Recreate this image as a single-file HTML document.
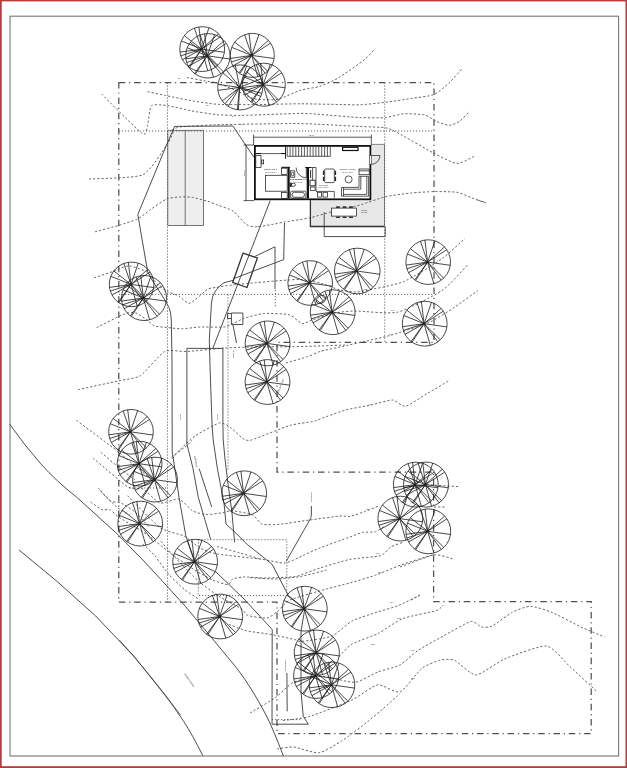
<!DOCTYPE html>
<html lang="en"><head><meta charset="utf-8"><title>Site Plan</title>
<style>
html,body{margin:0;padding:0;background:#fff}
body{width:627px;height:768px;overflow:hidden;position:relative;font-family:"Liberation Sans",sans-serif}
</style></head><body>
<svg width="627" height="768" viewBox="0 0 627 768" style="display:block">
<defs><filter id="gs" x="0" y="0" width="627" height="768" filterUnits="userSpaceOnUse" color-interpolation-filters="sRGB"><feColorMatrix type="saturate" values="0"/></filter></defs>
<rect x="0" y="0" width="627" height="768" fill="#fff"/>
<rect x="10" y="16.2" width="608.6" height="739.8" fill="none" stroke="#777" stroke-width="1.1"/>
<g fill="none" stroke="#555" stroke-width="0.8">
<rect x="167.8" y="130.3" width="35.7" height="95.1" fill="#eeeeee"/>
<path d="M185.2 130.3V225.4"/>
</g>
<path d="M371.3 144.4H384.5V226.5H310.4V200.2H371.3Z" fill="#e7e7e7" stroke="none"/>
<g fill="none" stroke="#555" stroke-width="0.9" stroke-dasharray="2.2 2" stroke-linejoin="round">
<path d="M187.0 77.6C188.7 77.9 200.9 80.2 203.8 80.7C206.8 81.2 213.4 81.9 216.5 82.8C219.6 83.7 231.2 88.4 235.0 90.0C238.8 91.6 250.7 98.1 255.0 99.0C259.3 99.9 273.3 100.2 277.8 99.3C282.3 98.4 295.8 91.7 300.0 90.4C304.2 89.1 316.1 87.6 320.0 86.3C323.9 85.0 334.6 80.1 339.0 77.5C343.4 74.9 360.5 62.8 364.0 60.0C367.5 57.2 373.0 51.0 374.0 50.0"/>
<path d="M147.6 91.7C149.4 92.1 161.2 94.6 165.5 95.5C169.8 96.4 185.7 99.7 191.0 100.6C196.3 101.5 211.9 104.0 219.0 104.4C226.1 104.8 253.9 104.6 262.0 104.5C270.1 104.4 292.2 103.8 300.0 103.8C307.8 103.8 334.0 104.4 340.0 104.5C346.0 104.6 355.4 105.0 360.0 104.8C364.6 104.6 380.4 102.9 385.5 102.3C390.6 101.7 406.1 99.3 411.0 98.5C415.9 97.7 430.2 96.1 434.0 94.6C437.8 93.0 446.2 85.6 449.0 83.0C451.8 80.4 460.7 70.4 462.0 69.0"/>
<path d="M101.5 94.0C105.6 98.0 137.7 130.5 142.3 133.6C146.9 136.7 146.7 127.6 147.6 124.8C148.5 122.0 149.5 107.6 151.5 105.7C153.5 103.8 164.1 105.2 168.0 105.7C171.9 106.2 186.2 109.9 191.0 110.8C195.8 111.7 211.4 114.1 216.5 114.6C221.6 115.1 233.7 115.5 242.0 115.4C250.3 115.3 292.2 113.5 300.0 113.4C307.8 113.3 314.0 114.0 320.0 114.4C326.0 114.8 353.4 117.3 360.0 117.6C366.6 117.9 381.2 118.0 385.5 117.6C389.8 117.2 399.4 114.1 403.4 113.8C407.3 113.5 421.7 114.2 425.0 115.0C428.3 115.8 434.1 120.4 436.5 121.4C438.9 122.4 446.7 125.3 449.0 125.3C451.3 125.3 457.4 122.8 459.5 121.4C461.6 120.0 468.7 112.2 469.7 111.2"/>
<path d="M172.0 130.0C172.8 129.7 175.6 127.5 180.0 127.0C184.4 126.5 204.0 125.1 216.0 124.8C228.0 124.5 285.6 123.4 300.0 123.6C314.4 123.8 351.4 126.1 360.0 126.5C368.6 126.9 381.7 127.1 385.5 127.8C389.3 128.4 393.1 130.4 398.0 133.0C402.9 135.6 428.1 150.2 434.0 153.3C439.9 156.4 452.9 163.2 457.0 163.5C461.1 163.8 473.0 156.8 474.8 156.0"/>
<path d="M89.0 179.0C94.4 178.6 134.8 178.4 142.7 174.8C150.6 171.2 164.9 147.5 168.0 143.0C171.1 138.5 173.4 131.3 174.0 130.0"/>
<path d="M95.0 231.8C97.3 231.2 114.1 226.8 118.3 225.5C122.5 224.2 134.2 220.6 137.4 219.0C140.6 217.4 147.1 212.0 150.0 210.0C152.9 208.0 163.5 200.3 166.5 199.0C169.5 197.7 177.4 197.2 180.0 197.0C182.6 196.8 189.2 196.9 192.0 197.3C194.8 197.7 205.0 200.5 207.6 201.3C210.2 202.1 215.0 204.0 217.5 205.0C220.0 206.0 230.1 209.1 233.0 211.0C235.9 212.9 244.0 222.9 246.3 224.5C248.6 226.1 253.2 227.0 255.8 227.0C258.4 227.0 268.9 225.0 271.8 224.5C274.7 224.0 280.7 222.7 284.5 222.0C288.3 221.3 304.9 219.0 309.7 217.9C314.5 216.8 327.7 212.8 332.7 211.5C337.7 210.2 354.7 206.5 360.0 205.0C365.3 203.5 380.4 197.9 385.5 196.7C390.6 195.5 406.1 193.5 411.0 193.0C415.9 192.5 429.4 191.7 434.0 191.6C438.6 191.5 453.2 191.7 457.0 192.3C460.8 192.9 469.1 196.9 472.0 198.0C474.9 199.1 484.6 202.5 486.0 203.0"/>
<path d="M94.0 277.8C95.9 277.2 109.5 272.7 113.0 271.5C116.5 270.3 125.3 265.7 128.7 265.8C132.1 265.9 144.5 270.3 147.4 272.2C150.3 274.1 155.4 282.5 157.4 284.4C159.4 286.3 165.3 290.4 167.5 291.6C169.7 292.8 176.8 294.8 179.0 296.0C181.2 297.2 186.8 304.0 189.7 303.3C192.6 302.6 205.0 290.9 207.6 289.3C210.2 287.7 213.6 287.9 216.0 287.5C218.4 287.1 228.0 285.5 232.0 285.0C236.0 284.5 251.5 283.1 255.8 282.7C260.1 282.3 271.7 281.3 275.0 281.0C278.3 280.7 286.5 280.1 289.0 280.0C291.5 279.9 296.9 279.2 300.0 279.5C303.1 279.8 316.0 281.9 320.0 283.0C324.0 284.1 336.5 289.1 340.0 290.0C343.5 290.9 352.4 291.9 355.0 292.0C357.6 292.1 360.6 291.6 365.5 290.6C370.4 289.6 396.2 284.8 403.8 281.6C411.4 278.4 435.9 263.0 442.0 258.7C448.1 254.4 462.7 240.3 465.0 238.3"/>
<path d="M96.6 327.6C99.4 326.2 120.5 315.4 124.4 313.9C128.3 312.4 133.6 312.4 135.9 313.0C138.2 313.6 145.5 319.0 147.4 320.3C149.3 321.6 152.5 325.3 154.5 326.0C156.5 326.7 164.8 327.2 167.5 327.5C170.2 327.8 178.8 328.9 182.0 328.8C185.2 328.8 195.7 327.2 200.0 327.0C204.3 326.8 221.2 327.6 225.5 326.8C229.8 326.0 239.6 319.9 243.4 318.6C247.2 317.3 259.2 313.9 263.8 313.5C268.4 313.1 285.5 313.8 289.3 314.8C293.1 315.8 299.7 323.2 302.0 323.7C304.3 324.2 308.7 321.1 312.0 320.0C315.3 318.9 330.7 313.9 335.0 313.0C339.3 312.1 349.1 311.1 355.3 311.0C361.5 310.9 388.7 314.2 397.4 312.2C406.1 310.2 435.0 295.3 442.0 290.6C449.0 285.9 465.0 267.6 467.6 265.0"/>
<path d="M77.9 389.7C82.0 388.8 112.5 382.2 118.7 380.8C125.0 379.4 135.8 378.6 140.4 375.7C145.0 372.8 160.0 353.9 164.6 351.5C169.2 349.1 180.7 351.9 186.8 351.5C192.9 351.1 219.2 348.4 225.5 348.0C231.8 347.6 243.4 347.1 250.0 347.0C256.6 346.9 284.8 346.8 291.8 346.7C298.8 346.6 314.7 346.2 320.0 346.0C325.3 345.8 342.5 345.1 345.0 345.0"/>
<path d="M285.9 363.0C288.1 362.4 304.2 357.8 307.6 356.6C311.0 355.5 316.8 352.5 320.0 351.5C323.2 350.5 334.9 348.1 340.0 347.0C345.1 345.9 365.9 341.2 371.0 340.0C376.1 338.8 385.2 337.0 391.0 335.2C396.8 333.4 422.9 325.2 429.3 322.4C435.7 319.6 449.9 310.2 454.8 307.0C459.7 303.8 475.5 292.2 477.8 290.6"/>
<path d="M172.2 458.6C173.0 457.7 177.7 452.0 180.0 449.7C182.3 447.4 191.4 438.4 195.3 435.7C199.2 433.0 215.9 423.8 219.5 423.0C223.1 422.2 228.7 426.5 231.0 428.0C233.3 429.5 240.5 437.0 242.5 438.2C244.5 439.4 246.7 441.3 251.4 440.0C256.1 438.7 283.6 427.3 289.7 425.5C295.8 423.7 309.7 422.2 312.7 421.6C315.7 421.0 316.7 420.2 320.0 419.0C323.3 417.8 340.4 411.4 345.5 410.0C350.6 408.6 366.3 406.0 371.0 405.0C375.7 404.0 389.2 399.9 392.7 400.0C396.1 400.1 402.1 406.9 405.5 406.3C408.9 405.7 422.7 396.2 427.0 393.6C431.3 391.1 446.6 382.1 448.8 380.8"/>
<path d="M477.8 200.0 L485.4 202.5"/>
<path d="M76.5 420.4C80.6 423.5 111.5 446.4 117.3 451.0C123.1 455.6 131.7 463.3 135.0 466.0C138.3 468.7 148.5 476.8 150.0 478.0"/>
<path d="M100.8 452.3C102.5 453.7 113.9 463.5 117.3 466.3C120.7 469.1 133.2 478.6 135.0 480.0"/>
<path d="M93.0 458.0C96.5 460.9 122.6 483.6 127.6 486.7C132.6 489.8 139.8 487.4 143.0 489.0C146.2 490.6 156.4 502.0 160.0 503.0C163.6 504.0 175.8 498.2 179.0 499.0C182.2 499.8 189.8 509.2 192.5 510.8C195.2 512.4 202.9 514.4 206.0 514.6C209.1 514.8 220.4 513.1 223.0 512.7C225.6 512.3 228.9 510.6 231.8 510.8C234.7 511.0 248.8 513.3 251.9 514.6C255.0 515.9 259.6 523.2 262.4 524.2C265.2 525.2 275.3 524.6 280.0 524.2C284.7 523.8 303.7 520.8 309.7 520.0C315.7 519.2 336.0 516.4 340.0 516.0C344.0 515.6 347.5 517.0 350.0 516.5C352.5 516.0 362.5 512.4 365.3 511.4C368.1 510.4 376.7 506.8 378.0 506.3"/>
<path d="M98.2 488.0C99.4 489.3 107.4 499.3 109.7 500.8C112.0 502.3 118.5 501.9 121.0 503.0C123.5 504.1 132.1 509.5 135.0 512.0C137.9 514.5 148.5 526.4 150.0 528.0"/>
<path d="M90.6 502.0C91.7 502.8 100.1 508.9 102.0 509.7C103.9 510.5 107.9 508.9 109.7 509.7C111.5 510.5 117.0 516.0 120.0 518.0C123.0 520.0 137.0 528.1 140.0 530.0C143.0 531.9 146.8 534.2 150.0 536.7C153.2 539.2 167.8 551.3 172.3 554.6C176.8 557.9 190.7 567.5 194.7 570.0C198.7 572.5 209.2 578.5 212.5 580.0C215.8 581.5 226.0 584.8 228.0 584.7C230.0 584.6 231.0 579.8 232.6 579.0C234.2 578.2 240.5 577.1 243.8 577.0C247.1 576.9 261.4 578.0 266.0 578.0C270.6 578.0 286.8 577.2 290.0 577.0C293.2 576.8 294.8 576.9 297.8 576.0C300.8 575.1 314.8 569.7 320.0 568.0C325.2 566.3 343.9 560.6 350.0 559.4C356.1 558.2 376.5 556.8 380.6 555.6C384.7 554.4 388.5 548.4 390.8 547.0C393.1 545.6 402.3 542.5 403.6 542.0"/>
<path d="M127.6 495.7C130.8 498.9 154.4 523.6 160.0 527.6C165.6 531.6 180.0 534.0 184.0 536.0C188.0 538.0 196.7 546.2 200.0 548.0C203.3 549.8 211.2 552.9 217.4 554.0C223.6 555.1 255.2 558.4 262.0 559.3C268.8 560.2 280.9 563.4 285.0 563.0C289.1 562.6 299.5 557.0 303.0 555.5C306.5 554.0 315.3 549.8 320.0 547.9C324.7 546.0 345.7 538.6 350.0 537.0C354.3 535.4 360.2 532.8 362.8 532.3C365.4 531.8 373.3 532.4 375.5 531.8C377.7 531.2 384.1 526.6 385.0 526.0"/>
<path d="M161.0 541.4C162.6 543.2 172.7 554.9 176.5 559.0C180.3 563.1 195.2 578.2 199.5 582.0C203.8 585.8 215.8 594.3 220.0 597.0C224.2 599.7 238.8 607.1 241.6 609.0C244.4 610.9 245.5 614.6 248.0 615.5C250.5 616.4 264.1 618.4 267.0 618.0C269.9 617.6 275.0 613.4 277.3 611.6C279.6 609.8 285.1 602.3 290.0 600.0C294.9 597.7 320.5 590.7 326.5 589.0C332.5 587.3 345.1 584.3 350.0 582.9C354.9 581.5 370.4 577.0 375.5 575.2C380.6 573.4 395.1 567.0 401.0 565.0C406.9 563.0 428.8 555.4 434.2 554.8C439.6 554.2 452.6 558.9 454.6 559.4"/>
<path d="M171.5 457.0C173.0 455.9 184.8 447.4 186.8 445.7C188.9 444.0 191.5 440.6 192.0 440.0"/>
<path d="M228.9 624.4C230.7 625.0 242.4 629.8 246.7 630.8C251.0 631.8 267.2 633.7 272.0 634.6C276.8 635.5 292.1 639.0 295.0 639.7C297.9 640.4 297.3 641.7 301.0 641.4C304.7 641.1 326.5 638.3 331.6 636.3C336.7 634.3 347.4 623.4 352.0 621.0C356.6 618.6 373.0 613.5 377.6 612.0C382.2 610.5 393.8 607.4 398.0 605.7C402.2 604.0 417.8 596.4 420.0 595.4"/>
<path d="M426.5 484.6 L459.7 486.7"/>
<path d="M434.0 507.0 L445.7 507.0"/>
<path d="M411.0 600.0 L420.0 595.0"/>
<path d="M250.0 577.7C252.6 577.8 270.4 579.1 275.5 579.0C280.6 578.9 295.9 577.3 301.0 576.4C306.1 575.5 323.9 570.6 326.5 570.0"/>
<path d="M339.0 656.7C340.3 655.4 348.1 646.3 352.0 644.0C355.9 641.7 372.5 636.3 377.6 633.8C382.7 631.2 397.1 620.8 403.0 618.5C408.9 616.2 432.2 612.0 436.2 610.6C440.2 609.2 442.7 605.6 443.4 605.0"/>
<path d="M250.0 713.0C252.6 711.5 271.2 700.7 275.5 697.6C279.8 694.5 288.9 684.5 293.4 682.3C297.8 680.1 313.9 676.0 320.0 676.0C326.1 676.0 348.8 682.7 354.6 682.3C360.4 681.9 373.1 673.7 377.6 672.0C382.1 670.3 396.0 667.2 400.0 665.0C404.0 662.8 413.7 653.3 418.0 650.4C422.3 647.5 438.1 638.9 443.4 636.0C448.7 633.1 466.8 622.4 470.6 621.5C474.4 620.6 479.3 626.5 481.5 627.0C483.7 627.5 489.2 627.5 492.3 626.0C495.4 624.5 508.2 614.4 512.0 612.4C515.8 610.4 526.3 606.3 530.3 606.3C534.3 606.3 546.9 610.3 552.0 612.4C557.1 614.5 575.7 624.5 581.0 627.0C586.3 629.5 602.2 636.0 604.6 637.0"/>
<path d="M283.0 720.5C285.6 720.1 301.8 718.8 308.7 716.7C315.6 714.7 345.1 703.2 352.0 700.0C358.9 696.8 372.8 685.6 377.6 684.8C382.4 684.0 395.6 693.6 400.0 692.0C404.4 690.4 417.7 671.7 421.7 668.5C425.7 665.3 436.5 661.0 439.8 660.2C443.1 659.4 450.7 658.7 454.3 660.2C457.9 661.7 470.9 675.1 476.0 675.0C481.1 674.9 497.9 661.7 505.0 658.8C512.1 655.9 540.1 645.2 546.6 646.0C553.1 646.8 564.9 662.1 570.0 666.7C575.1 671.3 594.6 689.5 597.3 692.0"/>
<path d="M277.0 749.0C278.7 748.8 289.4 746.6 293.6 747.0C297.8 747.4 314.2 753.4 319.0 752.8C323.8 752.2 337.1 743.9 342.0 740.8C346.9 737.7 363.5 724.8 367.6 721.6C371.7 718.4 379.7 711.7 382.9 708.9C386.1 706.1 398.3 695.1 400.0 693.6"/>
<path d="M400.0 567.0 L433.7 554.5"/>
<path d="M143.0 544.0C144.2 545.2 152.4 552.9 155.0 556.0C157.6 559.1 166.0 571.2 169.0 574.6C172.0 578.0 181.9 587.5 185.0 590.0C188.1 592.5 198.5 599.0 200.0 600.0"/>
<path d="M100.0 490.4C101.8 492.2 114.9 505.5 117.9 508.0C120.9 510.5 128.8 514.3 130.0 515.0"/>
<path d="M217.0 546.5C219.3 547.1 235.7 551.8 240.0 553.0C244.3 554.2 258.0 558.4 260.0 559.0"/>
</g>
<g fill="none" stroke="#555" stroke-width="0.9" stroke-dasharray="1.2 1.8">
<path d="M167.5 82.5V602"/>
<path d="M119 131H434"/>
<path d="M384.7 82.5V342"/>
<path d="M119 294.4H433.6"/>
<path d="M228 294.4V471"/>
<rect x="198.3" y="539.7" width="88.5" height="55.9"/>
<path d="M129 488H167.5"/>
<path d="M275.3 290V308"/>
<path d="M272 719.6H302"/>
</g>
<path d="M118.8 82.5H434V342.3H277V472H433.6V601.6H591.2V733.7H277V602.2H118.8Z" fill="none" stroke="#505050" stroke-width="1.25" stroke-dasharray="6.5 3.8 1.2 3.8"/>
<g fill="none" stroke="#3a3a3a" stroke-width="0.9" stroke-linejoin="round">
<path d="M254 157.4L232.9 126L174.7 126.4L166.5 145L137.8 214.5L147.6 271.4L152 280L163 297L169 307.5Q171 312 171.3 320L172 360L172.2 452L173.4 459L179 497.4L185.8 535.7L195 562L216 572L244 599L272.2 629.5L272 724.2H308.4L303.3 716.5L301 692V631L304.8 608.8L288.3 595.5L286.8 592.5L272.2 564.4L246.7 544L236.6 533.8L226 524L224 503L217.4 468.7L213.2 440L212 424L210 365.5L209.3 340L211.5 302Q213 290 224 282.7L233 280.4"/>
<path d="M286.2 561.3L309.7 520Q311.4 517.5 311.4 514V506"/>
<path d="M186.9 444V348.4H222.9V424L223.2 440L225 459L228 484L231.8 510.8L234.6 542.4"/>
<path d="M186.9 444L192.8 467.6L198.3 497.4L210.7 539.5"/>
<path d="M199.2 468.7L211.7 507"/>
<path d="M270.2 200.6L212.8 348.4"/>
<path d="M284.5 222.9L283.7 259.6L233.5 278.7"/>
<path d="M255 256.4L275 246.8V289"/>
<rect x="231.4" y="313" width="11.5" height="11.5"/>
<path d="M231.4 313.5H227.5V318.5H231.4"/>
<path d="M233 325L236.5 343"/>
<ellipse cx="321" cy="299.5" rx="5" ry="3.6" transform="rotate(-30 321 299.5)"/>
<path d="M324.2 212.1V236.6H385.2V226.5"/>
<path d="M286.9 673L287.2 711.4"/>
<path d="M9.7 424.2Q25 446 40.8 463.8T76.5 497L117.3 534L142.9 560L160 578.5L185.5 606.5L211 637L236.5 667.8Q245 679 251.8 690T265.5 714T283.4 756"/>
<path d="M19.1 550L57.4 581.7L95.7 616L134 656.3L164.6 694.6Q175 708 183.7 721.4T202.9 755.8"/>
<path d="M119.5 640.2Q150 674 180.6 715.2" stroke-width="0.7"/>
</g>
<path d="M243 253.2L257.4 258L247 287.5L232.7 282.4Z" fill="none" stroke="#333" stroke-width="1.3"/>
<g fill="none" stroke="#1c1c1c" stroke-width="0.8">
<circle cx="202.2" cy="49.1" r="22.4"/>
<path d="M201.6 49.1L194.4 28.1M201.6 49.1L198.9 26.9M201.6 49.1L209.0 27.7M201.6 49.1L218.6 33.8M201.6 49.1L220.8 36.6M201.6 49.1L224.4 52.3M201.6 49.1L217.7 65.2M201.6 49.1L215.3 67.3M201.6 49.1L207.8 70.8M201.6 49.1L189.6 67.6M201.6 49.1L188.6 66.9M201.6 49.1L182.5 59.7M201.6 49.1L180.8 55.8M201.6 49.1L180.0 52.1M201.6 49.1L181.3 40.9M201.6 49.1L184.3 35.6"/>
<circle cx="201.6" cy="49.1" r="0.9" fill="#222" stroke="none"/>
<circle cx="207.9" cy="55.8" r="22.2"/>
<path d="M207.3 55.8L200.1 35.0M207.3 55.8L204.6 33.8M207.3 55.8L214.6 34.6M207.3 55.8L224.1 40.6M207.3 55.8L226.3 43.4M207.3 55.8L229.9 59.0M207.3 55.8L223.3 71.8M207.3 55.8L220.9 73.8M207.3 55.8L213.5 77.3M207.3 55.8L195.4 74.1M207.3 55.8L194.5 73.5M207.3 55.8L188.3 66.3M207.3 55.8L186.7 62.5M207.3 55.8L185.9 58.8M207.3 55.8L187.2 47.7M207.3 55.8L190.2 42.4"/>
<circle cx="207.3" cy="55.8" r="0.9" fill="#222" stroke="none"/>
<circle cx="252.3" cy="55.4" r="22.0"/>
<path d="M251.7 55.4L244.6 34.8M251.7 55.4L249.0 33.6M251.7 55.4L258.9 34.4M251.7 55.4L268.4 40.4M251.7 55.4L270.6 43.1M251.7 55.4L274.1 58.5M251.7 55.4L267.6 71.3M251.7 55.4L265.2 73.3M251.7 55.4L257.8 76.7M251.7 55.4L239.9 73.6M251.7 55.4L239.0 72.9M251.7 55.4L232.9 65.8M251.7 55.4L231.3 62.0M251.7 55.4L230.5 58.4M251.7 55.4L231.8 47.4M251.7 55.4L234.7 42.1"/>
<circle cx="251.7" cy="55.4" r="0.9" fill="#222" stroke="none"/>
<circle cx="240.2" cy="87.4" r="22.5"/>
<path d="M239.6 87.4L223.0 72.9M239.6 87.4L226.3 69.7M239.6 87.4L235.3 65.4M239.6 87.4L246.6 65.8M239.6 87.4L249.9 67.1M239.6 87.4L261.0 78.8M239.6 87.4L261.9 93.4M239.6 87.4L260.8 96.4M239.6 87.4L256.1 103.3M239.6 87.4L238.4 109.8M239.6 87.4L237.3 109.7M239.6 87.4L228.2 106.4M239.6 87.4L224.8 103.8M239.6 87.4L222.2 101.0M239.6 87.4L217.9 90.4M239.6 87.4L217.9 84.4"/>
<circle cx="239.6" cy="87.4" r="0.9" fill="#222" stroke="none"/>
<circle cx="263.8" cy="84.7" r="21.5"/>
<path d="M263.2 84.7L256.3 64.6M263.2 84.7L260.6 63.4M263.2 84.7L270.3 64.2M263.2 84.7L279.5 70.0M263.2 84.7L281.7 72.7M263.2 84.7L285.1 87.8M263.2 84.7L278.7 100.2M263.2 84.7L276.4 102.2M263.2 84.7L269.2 105.5M263.2 84.7L251.7 102.5M263.2 84.7L250.8 101.8M263.2 84.7L244.9 94.9M263.2 84.7L243.3 91.2M263.2 84.7L242.5 87.6M263.2 84.7L243.8 76.9M263.2 84.7L246.6 71.8"/>
<circle cx="263.2" cy="84.7" r="0.9" fill="#222" stroke="none"/>
<circle cx="131.6" cy="284.4" r="22.3"/>
<path d="M131.0 284.4L123.8 263.5M131.0 284.4L128.3 262.3M131.0 284.4L138.3 263.1M131.0 284.4L147.9 269.2M131.0 284.4L150.1 272.0M131.0 284.4L153.7 287.6M131.0 284.4L147.1 300.5M131.0 284.4L144.6 302.5M131.0 284.4L137.2 306.0M131.0 284.4L119.0 302.8M131.0 284.4L118.1 302.2M131.0 284.4L112.0 295.0M131.0 284.4L110.3 291.1M131.0 284.4L109.5 287.4M131.0 284.4L110.8 276.3M131.0 284.4L113.8 271.0"/>
<circle cx="131.0" cy="284.4" r="0.9" fill="#222" stroke="none"/>
<circle cx="144.0" cy="298.0" r="22.5"/>
<path d="M143.4 298.0L136.1 276.9M143.4 298.0L140.7 275.7M143.4 298.0L150.8 276.5M143.4 298.0L160.4 282.6M143.4 298.0L162.7 285.5M143.4 298.0L166.3 301.2M143.4 298.0L159.6 314.2M143.4 298.0L157.2 316.3M143.4 298.0L149.6 319.8M143.4 298.0L131.3 316.6M143.4 298.0L130.4 315.9M143.4 298.0L124.2 308.7M143.4 298.0L122.5 304.8M143.4 298.0L121.7 301.0M143.4 298.0L123.1 289.8M143.4 298.0L126.0 284.4"/>
<circle cx="143.4" cy="298.0" r="0.9" fill="#222" stroke="none"/>
<circle cx="310.2" cy="283.0" r="22.3"/>
<path d="M309.6 283.0L302.4 262.1M309.6 283.0L306.9 260.9M309.6 283.0L316.9 261.7M309.6 283.0L326.5 267.8M309.6 283.0L328.7 270.6M309.6 283.0L332.3 286.2M309.6 283.0L325.7 299.1M309.6 283.0L323.2 301.1M309.6 283.0L315.8 304.6M309.6 283.0L297.6 301.4M309.6 283.0L296.7 300.8M309.6 283.0L290.6 293.6M309.6 283.0L288.9 289.7M309.6 283.0L288.1 286.0M309.6 283.0L289.4 274.9M309.6 283.0L292.4 269.6"/>
<circle cx="309.6" cy="283.0" r="0.9" fill="#222" stroke="none"/>
<circle cx="357.3" cy="271.0" r="22.8"/>
<path d="M356.7 271.0L349.3 249.6M356.7 271.0L353.9 248.5M356.7 271.0L364.2 249.3M356.7 271.0L374.0 255.4M356.7 271.0L376.2 258.3M356.7 271.0L379.9 274.3M356.7 271.0L373.1 287.4M356.7 271.0L370.6 289.5M356.7 271.0L363.0 293.1M356.7 271.0L344.5 289.8M356.7 271.0L343.5 289.2M356.7 271.0L337.2 281.8M356.7 271.0L335.6 277.9M356.7 271.0L334.7 274.1M356.7 271.0L336.1 262.7M356.7 271.0L339.1 257.3"/>
<circle cx="356.7" cy="271.0" r="0.9" fill="#222" stroke="none"/>
<circle cx="428.2" cy="262.1" r="22.3"/>
<path d="M427.6 262.1L420.4 241.2M427.6 262.1L424.9 240.0M427.6 262.1L434.9 240.8M427.6 262.1L444.5 246.9M427.6 262.1L446.7 249.7M427.6 262.1L450.3 265.3M427.6 262.1L443.7 278.2M427.6 262.1L441.2 280.2M427.6 262.1L433.8 283.7M427.6 262.1L415.6 280.5M427.6 262.1L414.7 279.9M427.6 262.1L408.6 272.7M427.6 262.1L406.9 268.8M427.6 262.1L406.1 265.1M427.6 262.1L407.4 254.0M427.6 262.1L410.4 248.7"/>
<circle cx="427.6" cy="262.1" r="0.9" fill="#222" stroke="none"/>
<circle cx="332.7" cy="312.2" r="22.4"/>
<path d="M332.1 312.2L324.9 291.2M332.1 312.2L329.4 290.0M332.1 312.2L339.5 290.8M332.1 312.2L349.1 296.9M332.1 312.2L351.3 299.7M332.1 312.2L354.9 315.4M332.1 312.2L348.2 328.3M332.1 312.2L345.8 330.4M332.1 312.2L338.3 333.9M332.1 312.2L320.1 330.7M332.1 312.2L319.1 330.0M332.1 312.2L313.0 322.8M332.1 312.2L311.3 318.9M332.1 312.2L310.5 315.2M332.1 312.2L311.8 304.0M332.1 312.2L314.8 298.7"/>
<circle cx="332.1" cy="312.2" r="0.9" fill="#222" stroke="none"/>
<circle cx="424.7" cy="323.7" r="22.4"/>
<path d="M424.1 323.7L416.9 302.7M424.1 323.7L421.4 301.5M424.1 323.7L431.5 302.3M424.1 323.7L441.1 308.4M424.1 323.7L443.3 311.2M424.1 323.7L446.9 326.9M424.1 323.7L440.2 339.8M424.1 323.7L437.8 341.9M424.1 323.7L430.3 345.4M424.1 323.7L412.1 342.2M424.1 323.7L411.1 341.5M424.1 323.7L405.0 334.3M424.1 323.7L403.3 330.4M424.1 323.7L402.5 326.7M424.1 323.7L403.8 315.5M424.1 323.7L406.8 310.2"/>
<circle cx="424.1" cy="323.7" r="0.9" fill="#222" stroke="none"/>
<circle cx="267.6" cy="343.4" r="22.4"/>
<path d="M267.0 343.4L259.8 322.4M267.0 343.4L264.3 321.2M267.0 343.4L274.4 322.0M267.0 343.4L284.0 328.1M267.0 343.4L286.2 330.9M267.0 343.4L289.8 346.6M267.0 343.4L283.1 359.5M267.0 343.4L280.7 361.6M267.0 343.4L273.2 365.1M267.0 343.4L255.0 361.9M267.0 343.4L254.0 361.2M267.0 343.4L247.9 354.0M267.0 343.4L246.2 350.1M267.0 343.4L245.4 346.4M267.0 343.4L246.7 335.2M267.0 343.4L249.7 329.9"/>
<circle cx="267.0" cy="343.4" r="0.9" fill="#222" stroke="none"/>
<circle cx="267.5" cy="382.0" r="22.4"/>
<path d="M266.9 382.0L259.7 361.0M266.9 382.0L264.2 359.8M266.9 382.0L274.3 360.6M266.9 382.0L283.9 366.7M266.9 382.0L286.1 369.5M266.9 382.0L289.7 385.2M266.9 382.0L283.0 398.1M266.9 382.0L280.6 400.2M266.9 382.0L273.1 403.7M266.9 382.0L254.9 400.5M266.9 382.0L253.9 399.8M266.9 382.0L247.8 392.6M266.9 382.0L246.1 388.7M266.9 382.0L245.3 385.0M266.9 382.0L246.6 373.8M266.9 382.0L249.6 368.5"/>
<circle cx="266.9" cy="382.0" r="0.9" fill="#222" stroke="none"/>
<circle cx="131.0" cy="431.8" r="22.3"/>
<path d="M130.4 431.8L123.2 410.9M130.4 431.8L127.7 409.7M130.4 431.8L137.7 410.5M130.4 431.8L147.3 416.6M130.4 431.8L149.5 419.4M130.4 431.8L153.1 435.0M130.4 431.8L146.5 447.9M130.4 431.8L144.0 449.9M130.4 431.8L136.6 453.4M130.4 431.8L118.4 450.2M130.4 431.8L117.5 449.6M130.4 431.8L111.4 442.4M130.4 431.8L109.7 438.5M130.4 431.8L108.9 434.8M130.4 431.8L110.2 423.7M130.4 431.8L113.2 418.4"/>
<circle cx="130.4" cy="431.8" r="0.9" fill="#222" stroke="none"/>
<circle cx="139.6" cy="463.7" r="22.4"/>
<path d="M139.0 463.7L131.8 442.7M139.0 463.7L136.3 441.5M139.0 463.7L146.4 442.3M139.0 463.7L156.0 448.4M139.0 463.7L158.2 451.2M139.0 463.7L161.8 466.9M139.0 463.7L155.1 479.8M139.0 463.7L152.7 481.9M139.0 463.7L145.2 485.4M139.0 463.7L127.0 482.2M139.0 463.7L126.0 481.5M139.0 463.7L119.9 474.3M139.0 463.7L118.2 470.4M139.0 463.7L117.4 466.7M139.0 463.7L118.7 455.5M139.0 463.7L121.7 450.2"/>
<circle cx="139.0" cy="463.7" r="0.9" fill="#222" stroke="none"/>
<circle cx="155.0" cy="479.6" r="22.4"/>
<path d="M154.4 479.6L147.2 458.6M154.4 479.6L151.7 457.4M154.4 479.6L161.8 458.2M154.4 479.6L171.4 464.3M154.4 479.6L173.6 467.1M154.4 479.6L177.2 482.8M154.4 479.6L170.5 495.7M154.4 479.6L168.1 497.8M154.4 479.6L160.6 501.3M154.4 479.6L142.4 498.1M154.4 479.6L141.4 497.4M154.4 479.6L135.3 490.2M154.4 479.6L133.6 486.3M154.4 479.6L132.8 482.6M154.4 479.6L134.1 471.4M154.4 479.6L137.1 466.1"/>
<circle cx="154.4" cy="479.6" r="0.9" fill="#222" stroke="none"/>
<circle cx="140.2" cy="523.6" r="22.4"/>
<path d="M139.6 523.6L132.4 502.6M139.6 523.6L136.9 501.4M139.6 523.6L147.0 502.2M139.6 523.6L156.6 508.3M139.6 523.6L158.8 511.1M139.6 523.6L162.4 526.8M139.6 523.6L155.7 539.7M139.6 523.6L153.3 541.8M139.6 523.6L145.8 545.3M139.6 523.6L127.6 542.1M139.6 523.6L126.6 541.4M139.6 523.6L120.5 534.2M139.6 523.6L118.8 530.3M139.6 523.6L118.0 526.6M139.6 523.6L119.3 515.4M139.6 523.6L122.3 510.1"/>
<circle cx="139.6" cy="523.6" r="0.9" fill="#222" stroke="none"/>
<circle cx="244.2" cy="493.3" r="22.4"/>
<path d="M243.6 493.3L236.4 472.3M243.6 493.3L240.9 471.1M243.6 493.3L251.0 471.9M243.6 493.3L260.6 478.0M243.6 493.3L262.8 480.8M243.6 493.3L266.4 496.5M243.6 493.3L259.7 509.4M243.6 493.3L257.3 511.5M243.6 493.3L249.8 515.0M243.6 493.3L231.6 511.8M243.6 493.3L230.6 511.1M243.6 493.3L224.5 503.9M243.6 493.3L222.8 500.0M243.6 493.3L222.0 496.3M243.6 493.3L223.3 485.1M243.6 493.3L226.3 479.8"/>
<circle cx="243.6" cy="493.3" r="0.9" fill="#222" stroke="none"/>
<circle cx="195.1" cy="561.7" r="22.4"/>
<path d="M194.5 561.7L187.3 540.7M194.5 561.7L191.8 539.5M194.5 561.7L201.9 540.3M194.5 561.7L211.5 546.4M194.5 561.7L213.7 549.2M194.5 561.7L217.3 564.9M194.5 561.7L210.6 577.8M194.5 561.7L208.2 579.9M194.5 561.7L200.7 583.4M194.5 561.7L182.5 580.2M194.5 561.7L181.5 579.5M194.5 561.7L175.4 572.3M194.5 561.7L173.7 568.4M194.5 561.7L172.9 564.7M194.5 561.7L174.2 553.5M194.5 561.7L177.2 548.2"/>
<circle cx="194.5" cy="561.7" r="0.9" fill="#222" stroke="none"/>
<circle cx="220.2" cy="616.5" r="22.4"/>
<path d="M219.6 616.5L212.4 595.5M219.6 616.5L216.9 594.3M219.6 616.5L227.0 595.1M219.6 616.5L236.6 601.2M219.6 616.5L238.8 604.0M219.6 616.5L242.4 619.7M219.6 616.5L235.7 632.6M219.6 616.5L233.3 634.7M219.6 616.5L225.8 638.2M219.6 616.5L207.6 635.0M219.6 616.5L206.6 634.3M219.6 616.5L200.5 627.1M219.6 616.5L198.8 623.2M219.6 616.5L198.0 619.5M219.6 616.5L199.3 608.3M219.6 616.5L202.3 603.0"/>
<circle cx="219.6" cy="616.5" r="0.9" fill="#222" stroke="none"/>
<circle cx="304.8" cy="608.7" r="22.4"/>
<path d="M304.2 608.7L297.0 587.7M304.2 608.7L301.5 586.5M304.2 608.7L311.6 587.3M304.2 608.7L321.2 593.4M304.2 608.7L323.4 596.2M304.2 608.7L327.0 611.9M304.2 608.7L320.3 624.8M304.2 608.7L317.9 626.9M304.2 608.7L310.4 630.4M304.2 608.7L292.2 627.2M304.2 608.7L291.2 626.5M304.2 608.7L285.1 619.3M304.2 608.7L283.4 615.4M304.2 608.7L282.6 611.7M304.2 608.7L283.9 600.5M304.2 608.7L286.9 595.2"/>
<circle cx="304.2" cy="608.7" r="0.9" fill="#222" stroke="none"/>
<circle cx="316.8" cy="652.7" r="22.6"/>
<path d="M316.2 652.7L308.9 631.5M316.2 652.7L313.5 630.3M316.2 652.7L323.6 631.2M316.2 652.7L333.3 637.3M316.2 652.7L335.6 640.1M316.2 652.7L339.2 655.9M316.2 652.7L332.5 669.0M316.2 652.7L330.0 671.0M316.2 652.7L322.5 674.6M316.2 652.7L304.1 671.4M316.2 652.7L303.1 670.7M316.2 652.7L296.9 663.4M316.2 652.7L295.2 659.5M316.2 652.7L294.4 655.8M316.2 652.7L295.8 644.4M316.2 652.7L298.8 639.1"/>
<circle cx="316.2" cy="652.7" r="0.9" fill="#222" stroke="none"/>
<circle cx="316.2" cy="675.8" r="22.6"/>
<path d="M315.6 675.8L308.3 654.6M315.6 675.8L312.9 653.4M315.6 675.8L323.0 654.3M315.6 675.8L332.7 660.4M315.6 675.8L335.0 663.2M315.6 675.8L338.6 679.0M315.6 675.8L331.9 692.1M315.6 675.8L329.4 694.1M315.6 675.8L321.9 697.7M315.6 675.8L303.5 694.5M315.6 675.8L302.5 693.8M315.6 675.8L296.3 686.5M315.6 675.8L294.6 682.6M315.6 675.8L293.8 678.9M315.6 675.8L295.2 667.5M315.6 675.8L298.2 662.2"/>
<circle cx="315.6" cy="675.8" r="0.9" fill="#222" stroke="none"/>
<circle cx="332.0" cy="684.8" r="22.8"/>
<path d="M331.4 684.8L324.0 663.4M331.4 684.8L328.6 662.3M331.4 684.8L338.9 663.1M331.4 684.8L348.7 669.2M331.4 684.8L350.9 672.1M331.4 684.8L354.6 688.1M331.4 684.8L347.8 701.2M331.4 684.8L345.3 703.3M331.4 684.8L337.7 706.9M331.4 684.8L319.2 703.6M331.4 684.8L318.2 703.0M331.4 684.8L311.9 695.6M331.4 684.8L310.3 691.7M331.4 684.8L309.4 687.9M331.4 684.8L310.8 676.5M331.4 684.8L313.8 671.1"/>
<circle cx="331.4" cy="684.8" r="0.9" fill="#222" stroke="none"/>
<circle cx="415.8" cy="484.6" r="22.4"/>
<path d="M415.2 484.6L408.0 463.6M415.2 484.6L412.5 462.4M415.2 484.6L422.6 463.2M415.2 484.6L432.2 469.3M415.2 484.6L434.4 472.1M415.2 484.6L438.0 487.8M415.2 484.6L431.3 500.7M415.2 484.6L428.9 502.8M415.2 484.6L421.4 506.3M415.2 484.6L403.2 503.1M415.2 484.6L402.2 502.4M415.2 484.6L396.1 495.2M415.2 484.6L394.4 491.3M415.2 484.6L393.6 487.6M415.2 484.6L394.9 476.4M415.2 484.6L397.9 471.1"/>
<circle cx="415.2" cy="484.6" r="0.9" fill="#222" stroke="none"/>
<circle cx="426.0" cy="484.6" r="22.5"/>
<path d="M425.4 484.6L418.1 463.5M425.4 484.6L422.7 462.3M425.4 484.6L432.8 463.1M425.4 484.6L442.4 469.2M425.4 484.6L444.7 472.1M425.4 484.6L448.3 487.8M425.4 484.6L441.6 500.8M425.4 484.6L439.2 502.9M425.4 484.6L431.6 506.4M425.4 484.6L413.3 503.2M425.4 484.6L412.4 502.5M425.4 484.6L406.2 495.3M425.4 484.6L404.5 491.4M425.4 484.6L403.7 487.6M425.4 484.6L405.1 476.4M425.4 484.6L408.0 471.0"/>
<circle cx="425.4" cy="484.6" r="0.9" fill="#222" stroke="none"/>
<circle cx="400.3" cy="518.6" r="22.4"/>
<path d="M399.7 518.6L392.5 497.6M399.7 518.6L397.0 496.4M399.7 518.6L407.1 497.2M399.7 518.6L416.7 503.3M399.7 518.6L418.9 506.1M399.7 518.6L422.5 521.8M399.7 518.6L415.8 534.7M399.7 518.6L413.4 536.8M399.7 518.6L405.9 540.3M399.7 518.6L387.7 537.1M399.7 518.6L386.7 536.4M399.7 518.6L380.6 529.2M399.7 518.6L378.9 525.3M399.7 518.6L378.1 521.6M399.7 518.6L379.4 510.4M399.7 518.6L382.4 505.1"/>
<circle cx="399.7" cy="518.6" r="0.9" fill="#222" stroke="none"/>
<circle cx="428.3" cy="531.3" r="22.4"/>
<path d="M427.7 531.3L420.5 510.3M427.7 531.3L425.0 509.1M427.7 531.3L435.1 509.9M427.7 531.3L444.7 516.0M427.7 531.3L446.9 518.8M427.7 531.3L450.5 534.5M427.7 531.3L443.8 547.4M427.7 531.3L441.4 549.5M427.7 531.3L433.9 553.0M427.7 531.3L415.7 549.8M427.7 531.3L414.7 549.1M427.7 531.3L408.6 541.9M427.7 531.3L406.9 538.0M427.7 531.3L406.1 534.3M427.7 531.3L407.4 523.1M427.7 531.3L410.4 517.8"/>
<circle cx="427.7" cy="531.3" r="0.9" fill="#222" stroke="none"/>
</g>
<!-- deck borders -->
<g fill="none" stroke="#333" stroke-width="1.3">
<path d="M310.4 200.2V226.5H384.5"/>
</g>
<g fill="none" stroke="#555" stroke-width="0.7">
<path d="M371.3 144.4H384.5"/>
<path d="M384.5 144.4V226.5"/>
</g>
<!-- dimension lines -->
<g fill="none" stroke="#222" stroke-width="0.75">
<path d="M253.6 134.5V145M371.3 134.5V145M253.6 137.2H371.3"/>
<path d="M243.5 145H254M243.5 200.6H254.2M246 145V200.6"/>
</g>
<!-- house walls -->
<rect x="254.9" y="145.9" width="115.5" height="53.4" fill="#fff" stroke="#111" stroke-width="1.8"/>
<g fill="#111" stroke="none">
<rect x="287.8" y="167" width="1.9" height="31.5"/>
<rect x="281.5" y="166.8" width="8.2" height="1.1"/>
<rect x="306.7" y="167.3" width="2.3" height="31.2"/>
<rect x="305.2" y="167" width="6" height="1.1"/>
<rect x="255.6" y="153" width="5.4" height="1.1"/>
<rect x="280.8" y="153" width="5" height="1.1"/>
<rect x="285.1" y="146.6" width="0.9" height="12.2"/>
</g>
<!-- interior thin lines -->
<g fill="none" stroke="#222" stroke-width="0.75">
<path d="M261 153.6H280.8"/>
<!-- stairs -->
<path d="M287.2 156.3H330.3V147"/>
<path d="M287.2 147V156.3M290.1 147V156.3M292.9 147V156.3M295.8 147V156.3M298.7 147V156.3M301.6 147V156.3M304.4 147V156.3M307.3 147V156.3M310.2 147V156.3M313.1 147V156.3M315.9 147V156.3M318.8 147V156.3M321.7 147V156.3M324.6 147V156.3M327.4 147V156.3"/>
<!-- bedroom -->
<rect x="255.8" y="155.5" width="5.2" height="12.1"/>
<rect x="261.7" y="160" width="1.9" height="3.8" stroke="#222" stroke-width="0.8"/>
<rect x="265.5" y="175.3" width="21.7" height="15.9" fill="#fff"/>
<rect x="281.5" y="168.2" width="5.7" height="6.4"/>
<rect x="281.5" y="192.5" width="5.7" height="5.9"/>
<!-- bath -->
<rect x="290.4" y="170.8" width="4.4" height="6.4"/>
<rect x="291.4" y="172.3" width="2.4" height="3.4" rx="1"/>
<ellipse cx="293.4" cy="184.8" rx="2.1" ry="1.6"/>
<rect x="290" y="183" width="1.3" height="3.6" fill="#333"/>
<rect x="290.6" y="191.2" width="15.3" height="7" rx="1.2"/>
<rect x="292" y="192.3" width="12.5" height="5" rx="2.5"/>
<path d="M296.1 167.6A10.2 10.2 0 0 0 306.3 177.8V167.6"/>
<path d="M290 179.5H306.5" stroke-dasharray="0.8 0.8"/>
<!-- kitchen -->
<path d="M309.6 167.5H316V191.4H334.3V197.8"/>
<path d="M312.6 167.5V180"/>
<rect x="310" y="180.2" width="5.2" height="5.6" stroke="#222" stroke-width="0.9"/>
<rect x="310.3" y="187" width="4.8" height="3.4"/>
<rect x="317.5" y="192.3" width="4" height="4.8"/>
<rect x="323" y="192.3" width="4.5" height="4.8"/>
<path d="M310.6 170V178" stroke="#111" stroke-width="0.9"/>
<!-- dining table -->
<rect x="324.7" y="169" width="9.6" height="13.6" rx="0.8"/>
<path d="M323.6 170.8V175M323.6 176.8V181M335.4 170.8V175M335.4 176.8V181" stroke="#222" stroke-width="1.4"/>
<!-- fireplace -->
<rect x="342.6" y="147.3" width="15.4" height="3.2" stroke="#111" stroke-width="1.2"/>
<!-- living -->
<circle cx="348.6" cy="179.4" r="3.5"/>
<path d="M341.5 187.4H359V176.3H368.6V196.2H341.5Z"/>
<path d="M343.5 187.4V196.2M343.5 189.2H360.8V176.3M366.8 176.3V194.4H343.5"/>
<rect x="359" y="169" width="10.2" height="5.7"/>
<path d="M359 170.8H369.2"/>
<!-- entry door -->
<path d="M371.3 155.5H379.9A8.7 8.7 0 0 1 371.3 164.3"/>
<!-- outdoor table -->
<rect x="331.4" y="208.1" width="25.2" height="8" fill="#fff"/>
</g>
<rect x="369.6" y="155.6" width="1.7" height="8.6" fill="#fff" stroke="#333" stroke-width="0.5"/>
<g fill="#333" stroke="none">
<rect x="336" y="206.3" width="4" height="1.6" rx="0.6"/><rect x="342.5" y="206.3" width="4" height="1.6" rx="0.6"/><rect x="349" y="206.3" width="4" height="1.6" rx="0.6"/>
<rect x="336" y="216.4" width="4" height="1.6" rx="0.6"/><rect x="342.5" y="216.4" width="4" height="1.6" rx="0.6"/><rect x="349" y="216.4" width="4" height="1.6" rx="0.6"/>
</g>
<!-- labels -->
<g filter="url(#gs)" font-family="Liberation Sans, sans-serif" fill="#555" font-size="2.1" font-weight="bold" text-anchor="middle">
<text x="270.5" y="170.2">BEDROOM 2</text>
<text x="270.5" y="173.2" font-size="1.7">11'-0" x 12'-0"</text>
<text x="298.3" y="180.3">BATH</text>
<text x="298.3" y="183" font-size="1.7">8'-0" x 9'-0"</text>
<text x="323.5" y="185.6">KITCHEN</text>
<text x="323.5" y="188.3" font-size="1.7">8'-0" x 12'-0"</text>
<text x="347.8" y="169.6">DINING / LIVING</text>
<text x="347.8" y="172.6" font-size="1.7">18'-0" x 19'-0"</text>
<text x="364.2" y="210.8">DECK</text>
<text x="364.2" y="213.4" font-size="1.7">12' x 30'</text>
<text x="311.5" y="136.4" font-size="2">48'-0"</text>
<text x="244.8" y="173" font-size="2" transform="rotate(-90 244.8 173)">24'-0"</text>
</g>

<g filter="url(#gs)" font-family="Liberation Sans, sans-serif" fill="#666" font-size="2.2" font-weight="bold">
<text x="256" y="226.5">100</text>
<text x="363.5" y="289.5">102</text>
<text x="391" y="311">104</text>
<text x="389" y="334.5">106</text>
<text x="206" y="106">92</text>
<text x="232" y="116.5">94</text>
<text x="240" y="124.5">96</text>
<text x="178" y="79">90</text>
<text x="369" y="405">110</text>
<text x="366" y="510">116</text>
<text x="376" y="554">120</text>
<text x="378" y="573">122</text>
<text x="390" y="603">124</text>
<text x="397" y="619">126</text>
<text x="371" y="645">128</text>
<text x="411" y="651">130</text>
<text x="411" y="679">132</text>
<text x="180.5" y="420" transform="rotate(-90 180.5 420)">10'-0"</text>
<text x="217.5" y="420" transform="rotate(-90 217.5 420)">10'-0"</text>
<text x="233.6" y="358" transform="rotate(-90 233.6 358)">SEPTIC</text>
<text x="197.6" y="467" transform="rotate(-100 197.6 467)">DRIVEWAY</text>
<text x="286.4" y="671" transform="rotate(-90 286.4 671)">DRIVEWAY</text>
<text x="312.1" y="502" transform="rotate(-90 312.1 502)">SETBACK</text>
<text x="184" y="674" transform="rotate(55 184 674)">COUNTY ROAD</text>
<text x="278" y="396" transform="rotate(-70 278 396)">PROPERTY LINE</text>
</g>

<g fill="#b53a3a"><rect x="0" y="0" width="627" height="1.4"/><rect x="0" y="766.2" width="627" height="1.8"/><rect x="0" y="0" width="1.7" height="768"/><rect x="625.5" y="0" width="1.5" height="768"/></g>
</svg>
</body></html>
